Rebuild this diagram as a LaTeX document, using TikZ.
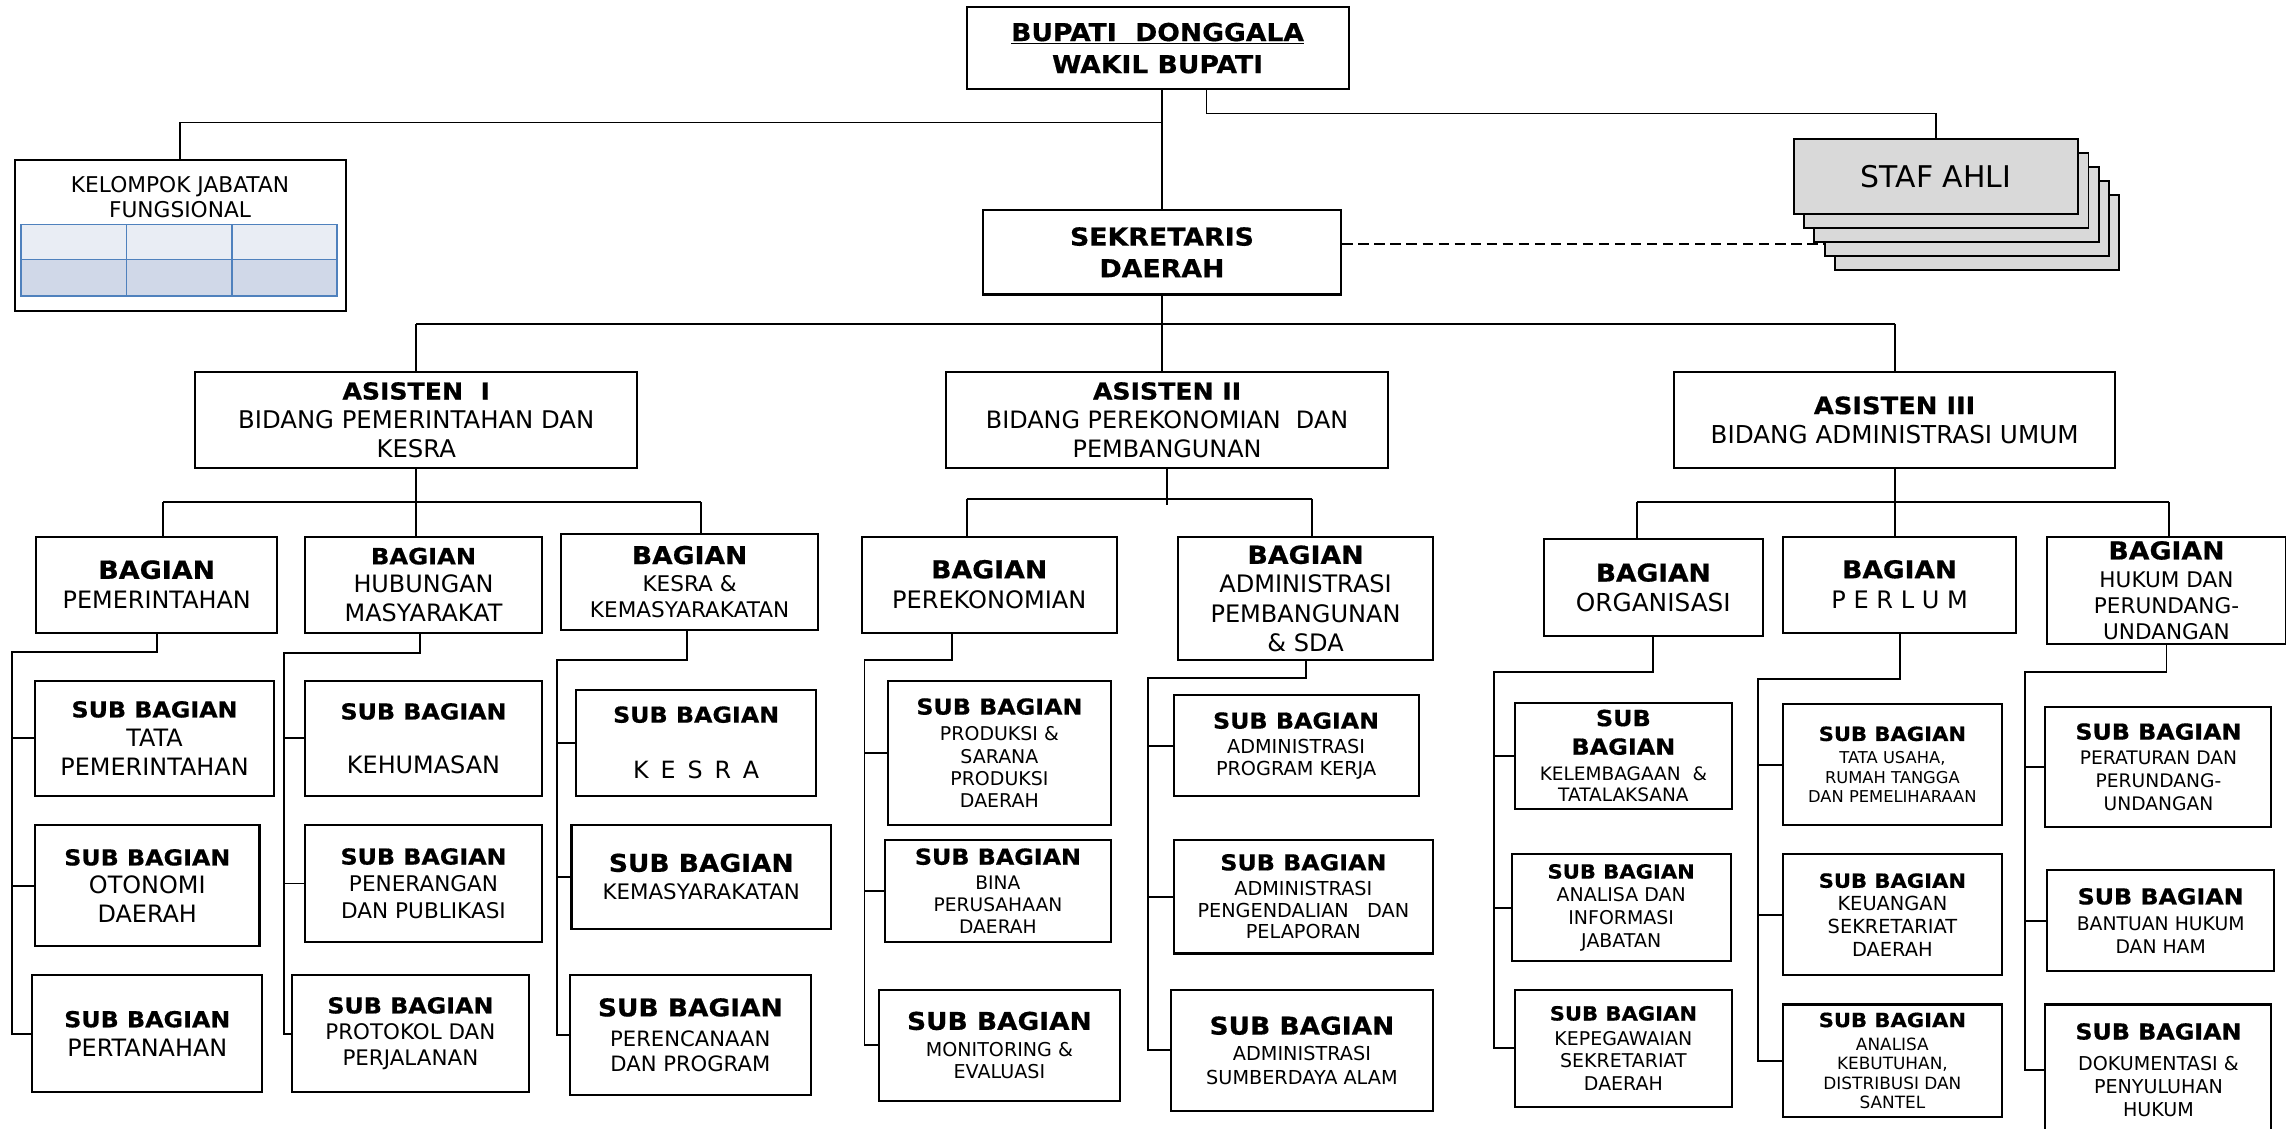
\documentclass[tikz,border=0pt]{standalone}
\usepackage{fontspec}
\setmainfont{DejaVu Sans}[BoldFeatures={FakeStretch=1.08,FakeBold=0.6}]
\definecolor{celltop}{HTML}{E9EDF4}
\definecolor{cellbot}{HTML}{D0D8E8}
\definecolor{cellline}{HTML}{4F81BD}
\definecolor{staffill}{HTML}{D9D9D9}
\newcommand{\fs}[2]{\fontsize{#1}{#2}\selectfont}
\newcommand{\hd}[2][15.1]{{\bfseries\fs{#1}{#1}#2}}
\newcommand{\orgbox}[7][]{%
  \node[orgunit, minimum width={(#5)-(#3)}, minimum height={(#6)-(#4)}, #1]
    (#2) at ({((#3)+(#5))/2},{((#4)+(#6))/2}) {#7};}
\tikzset{
  orgunit/.style={draw, line width=1.4pt, align=center, inner sep=0pt},
  stafbox/.style={draw, fill=staffill, line width=1.3pt, minimum width=195pt,
    minimum height=51.5pt, inner sep=0pt},
  link/.style={line width=1.3pt},
  toplink/.style={line width=1pt},
  cell/.style={draw=cellline, line width=1.3pt},
}
\begin{document}
\begin{tikzpicture}[x=1pt,y=-1pt]
\useasboundingbox (0,0) rectangle (1568,774);
% pimpinan
\orgbox[font=\bfseries\fs{16.9}{22}]{bupati}{663}{5}{925}{61}{\underline{BUPATI~~DONGGALA}\\WAKIL BUPATI}
\orgbox[font=\bfseries\fs{17}{21.7}]{sekda}{674}{144}{920}{202}{SEKRETARIS\\DAERAH}
\orgbox{jf}{10.5}{110}{237}{213}{}
\node[font=\fs{14.9}{17}, align=center] (jfname) at (123.5,135.3) {KELOMPOK JABATAN\\FUNGSIONAL};
\foreach \c in {0,1,2} {
  \draw[cell, fill=celltop] ({14.7+72.1*\c},154) rectangle ++(72.1,24);
  \draw[cell, fill=cellbot] ({14.7+72.1*\c},178) rectangle ++(72.1,25);
}
\foreach \i in {4,3,2,1}
  \node[stafbox] (st\i) at ({1328+7*\i},{121.25+9.6*\i}) {};
\node[stafbox, font=\fs{20.5}{24}] (st0) at (1328,121.25) {STAF AHLI};
% asisten
\orgbox[font=\fs{16.7}{19.8}]{a1}{134}{255}{437}{321}{\hd[16]{ASISTEN~~I}\\BIDANG PEMERINTAHAN DAN\\KESRA}
\orgbox[font=\fs{16.4}{19.8}]{a2}{649}{255}{952}{321}{\hd[16]{ASISTEN II}\\BIDANG PEREKONOMIAN~~DAN\\PEMBANGUNAN}
\orgbox[font=\fs{16.9}{19.8}]{a3}{1148}{255}{1451}{321}{\hd[16.4]{ASISTEN III}\\BIDANG ADMINISTRASI UMUM}
% bagian
\orgbox[font=\fs{16.4}{20.7}]{b1}{25}{368}{190}{434}{\hd[17.1]{BAGIAN}\\PEMERINTAHAN}
\orgbox[font=\fs{16.4}{19.5}]{b2}{209}{368}{372}{434}{\hd[15.4]{BAGIAN}\\HUBUNGAN\\MASYARAKAT}
\orgbox[font=\fs{14.8}{17.5}]{b3}{385}{366}{561}{432}{\hd[16.9]{BAGIAN}\\[1.5pt]KESRA \&\\KEMASYARAKATAN}
\orgbox[font=\fs{16.5}{21}]{b4}{591}{368}{766}{434}{\hd[17]{BAGIAN}\\PEREKONOMIAN}
\orgbox[font=\fs{16.5}{20}]{b5}{808}{368}{983}{453}{\hd[17]{BAGIAN}\\ADMINISTRASI\\PEMBANGUNAN\\\& SDA}
\orgbox[font=\fs{17}{20.5}]{b6}{1059}{370}{1209}{436}{\hd[16.8]{BAGIAN}\\ORGANISASI}
\orgbox[font=\fs{16.5}{21}]{b7}{1223}{368}{1383}{434}{\hd[16.8]{BAGIAN}\\P E R L U M}
\orgbox[font=\fs{14.8}{17.8}]{b8}{1404}{368}{1568}{442}{\hd[17]{BAGIAN}\\[1.5pt]HUKUM DAN\\PERUNDANG-\\UNDANGAN}
% sub bagian
\orgbox[font=\fs{16.4}{20}]{s11}{24}{467}{188}{546}{\hd{SUB BAGIAN}\\TATA\\PEMERINTAHAN}
\orgbox[font=\fs{16.4}{19.5}]{s12}{24}{566}{178}{649}{\hd{SUB BAGIAN}\\OTONOMI\\DAERAH}
\orgbox[font=\fs{16.4}{20}]{s13}{22}{669}{180}{749}{\hd{SUB BAGIAN}\\PERTANAHAN}
\orgbox[font=\fs{16.4}{20}]{s21}{209}{467}{372}{546}{\hd{SUB BAGIAN}\\[17pt]KEHUMASAN}
\orgbox[font=\fs{14.8}{18.5}]{s22}{209}{566}{372}{646}{\hd{SUB BAGIAN}\\PENERANGAN\\DAN PUBLIKASI}
\orgbox[font=\fs{14.7}{18}]{s23}{200}{669}{363}{749}{\hd{SUB BAGIAN}\\PROTOKOL DAN\\PERJALANAN}
\orgbox[font=\fs{16.3}{20}]{s31}{395}{473}{560}{546}{\hd{SUB BAGIAN}\\[18.6pt]K\hspace{0.5em}E\hspace{0.5em}S\hspace{0.5em}R\hspace{0.5em}A}
\orgbox[font=\fs{14.65}{19.3}]{s32}{392}{566}{570}{637}{\hd[16.8]{SUB BAGIAN}\\KEMASYARAKATAN}
\orgbox[font=\fs{14.5}{17.5}]{s33}{391}{669}{556}{751}{\hd[16.8]{SUB BAGIAN}\\[3pt]PERENCANAAN\\DAN PROGRAM}
\orgbox[font=\fs{13}{15.3}]{s41}{609}{467}{762}{566}{\hd{SUB BAGIAN}\\[2.7pt]PRODUKSI \&\\SARANA\\PRODUKSI\\DAERAH}
\orgbox[font=\fs{12.8}{15}]{s42}{607}{576}{762}{646}{\hd{SUB BAGIAN}\\[2pt]BINA\\PERUSAHAAN\\DAERAH}
\orgbox[font=\fs{13.1}{15.5}]{s43}{603}{679}{768}{755}{\hd[16.8]{SUB BAGIAN}\\[2.5pt]MONITORING \&\\EVALUASI}
\orgbox[font=\fs{13.2}{15}]{s51}{805}{477}{973}{546}{\hd{SUB BAGIAN}\\[2pt]ADMINISTRASI\\PROGRAM KERJA}
\orgbox[font=\fs{13.2}{15}]{s52}{805}{576}{983}{654}{\hd{SUB BAGIAN}\\[2pt]ADMINISTRASI\\PENGENDALIAN~~~DAN\\PELAPORAN}
\orgbox[font=\fs{13.2}{16}]{s53}{803}{679}{983}{762}{\hd[16.8]{SUB BAGIAN}\\[2pt]ADMINISTRASI\\SUMBERDAYA ALAM}
\orgbox[font=\fs{12.7}{15}]{s61}{1039}{482}{1188}{555}{\hd[15.2]{SUB}\\[4.6pt]\hd[15.2]{BAGIAN}\\[2.4pt]KELEMBAGAAN~~\&\\TATALAKSANA}
\orgbox[font=\fs{13}{15.7}]{s62}{1037}{586}{1187}{659}{\hd[13.4]{SUB BAGIAN}\\ANALISA DAN\\INFORMASI\\JABATAN}
\orgbox[font=\fs{13}{15.5}]{s63}{1039}{679}{1188}{759}{\hd[13.4]{SUB BAGIAN}\\[1.5pt]KEPEGAWAIAN\\SEKRETARIAT\\DAERAH}
\orgbox[font=\fs{11.2}{13.5}]{s71}{1223}{483}{1373}{566}{\hd[13.4]{SUB BAGIAN}\\[2pt]TATA USAHA,\\RUMAH TANGGA\\DAN PEMELIHARAAN}
\orgbox[font=\fs{13.3}{15.7}]{s72}{1223}{586}{1373}{669}{\hd[13.4]{SUB BAGIAN}\\KEUANGAN\\SEKRETARIAT\\DAERAH}
\orgbox[font=\fs{11.6}{13.2}]{s73}{1223}{689}{1373}{766}{\hd[13.4]{SUB BAGIAN}\\[3pt]ANALISA\\KEBUTUHAN,\\DISTRIBUSI DAN\\SANTEL}
\orgbox[font=\fs{12.8}{15.8}]{s81}{1403}{485}{1558}{567}{\hd{SUB BAGIAN}\\[1pt]PERATURAN DAN\\PERUNDANG-\\UNDANGAN}
\orgbox[font=\fs{12.9}{15.5}]{s82}{1404}{597}{1560}{666}{\hd{SUB BAGIAN}\\[2.5pt]BANTUAN HUKUM\\DAN HAM}
\orgbox[font=\fs{13.1}{16}]{s83}{1403}{689}{1558}{779}{\hd{SUB BAGIAN}\\[5pt]DOKUMENTASI \&\\PENYULUHAN\\HUKUM}
% garis atas
\coordinate (jfbus) at (0,84);
\coordinate (stbus) at (0,77.7);
\coordinate (bus) at (0,222);
\coordinate (dsh) at ([yshift=5.6pt]sekda.east);
\draw[toplink] (sekda.north |- bupati.south) -- (sekda.north);
\draw[link] (sekda.north |- jfbus) -| (jf.north);
\draw[toplink] ([xshift=33.6pt]bupati.south) |- (stbus -| st0.north) -- (st0.north);
\draw[toplink, dash pattern=on 7pt off 4pt] (dsh) -- (dsh -| st3.west);
\draw[link] (sekda.south) -- (sekda.south |- a2.north);
\draw[link] (a1.north |- bus) -- (a3.north |- bus);
\draw[link] (a1.north |- bus) -- (a1.north);
\draw[link] (a3.north |- bus) -- (a3.north);
% asisten ke bagian
\coordinate (bar1) at (0,344.5);
\coordinate (bar2) at (0,342);
\coordinate (bar3) at (0,344.5);
\draw[link] (a1.south) -- (a1.south |- bar1);
\draw[link] (a2.south) -- ([yshift=-4.5pt]a2.south |- bar2);
\draw[link] (a3.south) -- (a3.south |- bar3);
\foreach \b/\dx/\bar in {b1/4.5/bar1,b2/-5/bar1,b3/8/bar1,b4/-15.5/bar2,b5/4.5/bar2,b6/-11.4/bar3,b7/-3.5/bar3,b8/2/bar3} {
  \coordinate (top\b) at ([xshift=\dx pt]\b.north);
  \draw[link] (top\b |- \bar) -- (top\b);
}
\draw[link] (topb1 |- bar1) -- (topb3 |- bar1);
\draw[link] (topb4 |- bar2) -- (topb5 |- bar2);
\draw[link] (topb6 |- bar3) -- (topb8 |- bar3);
% bagian ke sub bagian
\foreach \g/\x/\y/\dx in {1/8/447/0,2/195/448/-2.5,3/382/453/-2,4/593/453/-25.5,5/787.5/465/0,6/1025/461/0,7/1206/466/0,8/1389/461/0} {
  \coordinate (e\g) at (\x,\y);
  \draw[link] ([xshift=\dx pt]b\g.south) |- (e\g) |- (s\g3.west);
  \foreach \k in {1,2}
    \draw[link] (s\g\k.west -| e\g) -- (s\g\k.west);
}
\end{tikzpicture}
\end{document}
